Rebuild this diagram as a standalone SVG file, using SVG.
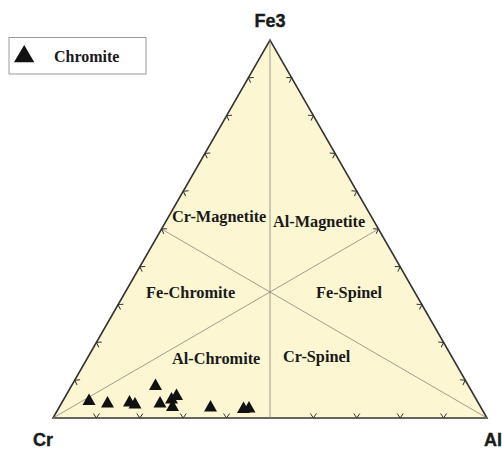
<svg xmlns="http://www.w3.org/2000/svg" xmlns:xlink="http://www.w3.org/1999/xlink" width="502" height="450" viewBox="0 0 502 450">
<style>
.lbl{font-family:"Liberation Serif","Times New Roman",serif;font-weight:bold;font-size:16.3px;fill:#1a1a1a}
.apex{font-family:"Liberation Sans",Arial,sans-serif;font-weight:bold;font-size:18px;fill:#1a1a1a;stroke:#1a1a1a;stroke-width:0.4}
.inner{stroke:#8a8578;stroke-width:0.8;fill:none}
.tk{stroke:#333;stroke-width:1;fill:none}
.pt{fill:#111}
</style>
<defs>
<path id="tk" d="M-3,-4.5 L0,0 L3,-4.5"/>
<path id="pt" d="M0,-6.5 L6.5,5 L-6.5,5 Z"/>
</defs>
<rect width="502" height="450" fill="#fff"/>
<g id="ternary">
<polygon points="53,418 487,418 270,40" fill="#fcf7d2" stroke="#333" stroke-width="1.6"/>
</g>
<g id="connectors">
<line class="inner" x1="270" y1="40" x2="270" y2="418"/>
<line class="inner" x1="53" y1="418" x2="378.5" y2="229"/>
<line class="inner" x1="487" y1="418" x2="161.5" y2="229"/>
</g>
<g id="ticks" class="tk">
<use xlink:href="#tk" transform="translate(96.4,418)"/>
<use xlink:href="#tk" transform="translate(139.8,418)"/>
<use xlink:href="#tk" transform="translate(183.2,418)"/>
<use xlink:href="#tk" transform="translate(226.6,418)"/>
<use xlink:href="#tk" transform="translate(313.4,418)"/>
<use xlink:href="#tk" transform="translate(356.8,418)"/>
<use xlink:href="#tk" transform="translate(400.2,418)"/>
<use xlink:href="#tk" transform="translate(443.6,418)"/>
<use xlink:href="#tk" transform="translate(74.7,380.2) rotate(120)"/>
<use xlink:href="#tk" transform="translate(96.4,342.4) rotate(120)"/>
<use xlink:href="#tk" transform="translate(118.1,304.6) rotate(120)"/>
<use xlink:href="#tk" transform="translate(139.8,266.8) rotate(120)"/>
<use xlink:href="#tk" transform="translate(161.5,229) rotate(120)"/>
<use xlink:href="#tk" transform="translate(183.2,191.2) rotate(120)"/>
<use xlink:href="#tk" transform="translate(204.9,153.4) rotate(120)"/>
<use xlink:href="#tk" transform="translate(226.6,115.6) rotate(120)"/>
<use xlink:href="#tk" transform="translate(248.3,77.8) rotate(120)"/>
<use xlink:href="#tk" transform="translate(465.3,380.2) rotate(-120)"/>
<use xlink:href="#tk" transform="translate(443.6,342.4) rotate(-120)"/>
<use xlink:href="#tk" transform="translate(421.9,304.6) rotate(-120)"/>
<use xlink:href="#tk" transform="translate(400.2,266.8) rotate(-120)"/>
<use xlink:href="#tk" transform="translate(378.5,229) rotate(-120)"/>
<use xlink:href="#tk" transform="translate(356.8,191.2) rotate(-120)"/>
<use xlink:href="#tk" transform="translate(335.1,153.4) rotate(-120)"/>
<use xlink:href="#tk" transform="translate(313.4,115.6) rotate(-120)"/>
<use xlink:href="#tk" transform="translate(291.7,77.8) rotate(-120)"/>
</g>
<g id="fields">
<text class="lbl" x="172" y="222">Cr-Magnetite</text>
<text class="lbl" x="273" y="227">Al-Magnetite</text>
<text class="lbl" x="146" y="298">Fe-Chromite</text>
<text class="lbl" x="316" y="298">Fe-Spinel</text>
<text class="lbl" x="172" y="364">Al-Chromite</text>
<text class="lbl" x="283" y="362">Cr-Spinel</text>
</g>
<g id="apices">
<text class="apex" x="270" y="27" text-anchor="middle">Fe3</text>
<text class="apex" x="33" y="446">Cr</text>
<text class="apex" x="484" y="446">Al</text>
</g>
<g id="data" class="pt">
<use xlink:href="#pt" x="89" y="400"/>
<use xlink:href="#pt" x="107.5" y="402.5"/>
<use xlink:href="#pt" x="129.5" y="401.5"/>
<use xlink:href="#pt" x="135" y="403.5"/>
<use xlink:href="#pt" x="155.5" y="385"/>
<use xlink:href="#pt" x="160" y="402.5"/>
<use xlink:href="#pt" x="171.5" y="398.5"/>
<use xlink:href="#pt" x="176.5" y="395"/>
<use xlink:href="#pt" x="172.5" y="406"/>
<use xlink:href="#pt" x="210.5" y="406.5"/>
<use xlink:href="#pt" x="243.5" y="408"/>
<use xlink:href="#pt" x="249" y="407.5"/>
</g>
<g id="legend">
<rect x="9" y="37.5" width="137" height="36.5" fill="#fff" stroke="#999" stroke-width="1"/>
<path d="M24.2,45 L34.3,62.3 L14,62.3 Z" fill="#111"/>
<text class="lbl" x="54" y="61.5" style="font-size:16px">Chromite</text>
</g>
</svg>
